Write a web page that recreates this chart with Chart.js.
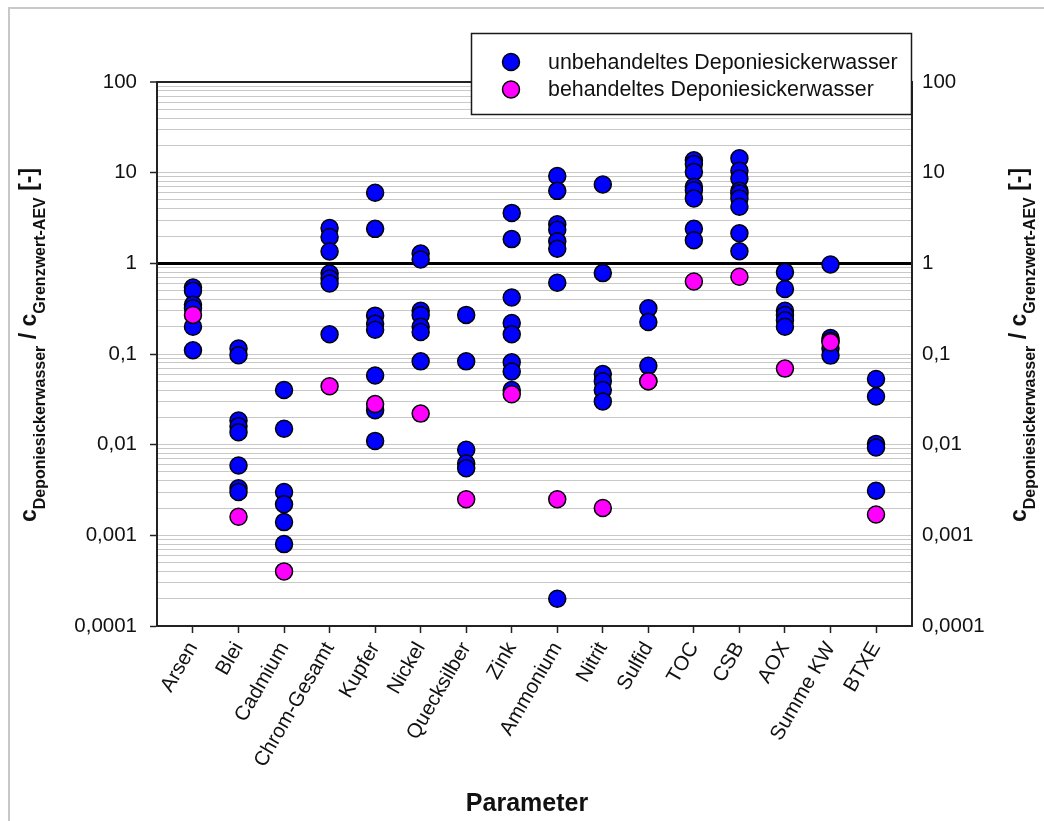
<!DOCTYPE html>
<html>
<head>
<meta charset="utf-8">
<title>Deponiesickerwasser</title>
<script src="https://cdn.jsdelivr.net/npm/chart.js@4.4.1/dist/chart.umd.min.js"></script>
<style>
  html, body { margin: 0; padding: 0; background: #ffffff; }
  #wrap { position: relative; width: 1044px; height: 821px; }
</style>
</head>
<body>
<div id="wrap"><canvas id="chart" width="1044" height="821"></canvas></div>
<script>
// Parameters on the x axis
const categories = ['Arsen', 'Blei', 'Cadmium', 'Chrom-Gesamt', 'Kupfer', 'Nickel', 'Quecksilber',
  'Zink', 'Ammonium', 'Nitrit', 'Sulfid', 'TOC', 'CSB', 'AOX', 'Summe KW', 'BTXE'];

// Ratio c / c(Grenzwert-AEV), untreated leachate, one list per parameter
const untreatedValues = [
  [0.54, 0.5, 0.35, 0.32, 0.2, 0.11],
  [0.115, 0.097, 0.0185, 0.016, 0.0137, 0.0059, 0.0033, 0.003],
  [0.04, 0.015, 0.003, 0.0022, 0.0014, 0.0008],
  [2.45, 1.95, 1.35, 0.77, 0.68, 0.6, 0.165],
  [6.0, 2.4, 0.265, 0.215, 0.185, 0.058, 0.024, 0.011],
  [1.28, 1.1, 0.3, 0.27, 0.2, 0.175, 0.083],
  [0.27, 0.083, 0.0088, 0.0062, 0.0055],
  [3.6, 1.85, 0.42, 0.22, 0.165, 0.081, 0.064, 0.04],
  [9.2, 6.3, 2.7, 2.35, 1.75, 1.45, 0.61, 0.0002],
  [7.4, 0.78, 0.06, 0.05, 0.04, 0.03],
  [0.32, 0.225, 0.074, 0.05],
  [13.7, 12.5, 10.2, 7.0, 6.4, 5.2, 2.4, 1.8],
  [14.4, 10.5, 8.6, 6.3, 5.9, 5.2, 4.2, 2.15, 1.36],
  [0.8, 0.52, 0.3, 0.27, 0.235, 0.2],
  [0.97, 0.15, 0.14, 0.115, 0.096],
  [0.053, 0.034, 0.0102, 0.0093, 0.0031]
];

// Ratio c / c(Grenzwert-AEV), treated leachate
const treatedValues = [
  [0.27], [0.0016], [0.0004], [0.044], [0.028], [0.022], [0.0025], [0.036],
  [0.0025], [0.002], [0.05], [0.63], [0.71], [0.069], [0.135], [0.0017]
];

const seriesNames = ['unbehandeltes Deponiesickerwasser', 'behandeltes Deponiesickerwasser'];
const seriesColors = ['#0000ff', '#ff00ff'];

// Decade ticks of the logarithmic axis and their labels
const decadeValues = [0.0001, 0.001, 0.01, 0.1, 1, 10, 100];
const decadeLabels = ['0,0001', '0,001', '0,01', '0,1', '1', '10', '100'];
const limitValue = 1;

const xTitle = 'Parameter';
const yTitleParts = [
  { text: 'c', sub: false },
  { text: 'Deponiesickerwasser', sub: true },
  { text: ' / ', sub: false },
  { text: 'c', sub: false },
  { text: 'Grenzwert-AEV', sub: true },
  { text: ' [-]', sub: false }
];

const FONT = "'Liberation Sans', Arial, Helvetica, sans-serif";
const INK = '#111111';

function toPoints(groups) {
  const pts = [];
  groups.forEach((vals, i) => vals.forEach(v => pts.push({ x: i, y: v })));
  return pts;
}

function decadeIndex(v) {
  return decadeValues.findIndex(d => Math.abs(v / d - 1) < 1e-6);
}

// 1..9 x 10^n ticks for every decade (grid), labels only on decades
function logTicks() {
  const t = [];
  for (let i = 0; i < decadeValues.length - 1; i++) {
    for (let m = 1; m <= 9; m++) t.push({ value: m * decadeValues[i] });
  }
  t.push({ value: decadeValues[decadeValues.length - 1] });
  return t;
}

function decadeLabel(value) {
  const i = decadeIndex(value);
  return i >= 0 ? decadeLabels[i] : '';
}

// Page frame, rotated y titles with subscripts, x title and the legend box
const decorations = {
  id: 'decorations',
  beforeDraw(chart) {
    const ctx = chart.ctx;
    ctx.save();
    ctx.fillStyle = '#ffffff';
    ctx.fillRect(0, 0, chart.width, chart.height);
    ctx.strokeStyle = '#c8c8c8';
    ctx.lineWidth = 2;
    ctx.beginPath();
    ctx.moveTo(9, chart.height);
    ctx.lineTo(9, 8);
    ctx.lineTo(chart.width, 8);
    ctx.stroke();
    ctx.restore();
  },
  afterDraw(chart) {
    const ctx = chart.ctx;

    const mainFont = 'bold 23px ' + FONT;
    const subFont = 'bold 16px ' + FONT;
    const drawYTitle = (baseX, centerY) => {
      ctx.save();
      ctx.fillStyle = INK;
      ctx.textBaseline = 'alphabetic';
      ctx.textAlign = 'left';
      let total = 0;
      const widths = yTitleParts.map(p => {
        ctx.font = p.sub ? subFont : mainFont;
        const w = ctx.measureText(p.text).width;
        total += w;
        return w;
      });
      ctx.translate(baseX, centerY);
      ctx.rotate(-Math.PI / 2);
      let u = -total / 2;
      yTitleParts.forEach((p, i) => {
        ctx.font = p.sub ? subFont : mainFont;
        ctx.fillText(p.text, u, p.sub ? 9 : 0);
        u += widths[i];
      });
      ctx.restore();
    };
    drawYTitle(36, 345);
    drawYTitle(1026, 345);

    // x axis title
    ctx.save();
    ctx.fillStyle = INK;
    ctx.font = 'bold 25px ' + FONT;
    ctx.textAlign = 'center';
    ctx.textBaseline = 'middle';
    ctx.fillText(xTitle, 527, 804);
    ctx.restore();

    // legend
    const lx = 471.5, ly = 33.5, lw = 440, lh = 81;
    ctx.save();
    ctx.fillStyle = '#ffffff';
    ctx.fillRect(lx, ly, lw, lh);
    ctx.strokeStyle = '#1a1a1a';
    ctx.lineWidth = 1.5;
    ctx.strokeRect(lx, ly, lw, lh);
    chart.data.datasets.forEach((ds, i) => {
      const cy = 62 + i * 27.5;
      ctx.beginPath();
      ctx.arc(511, cy, 8.5, 0, Math.PI * 2);
      ctx.fillStyle = ds.backgroundColor;
      ctx.fill();
      ctx.lineWidth = 1.5;
      ctx.strokeStyle = '#000000';
      ctx.stroke();
      ctx.fillStyle = INK;
      ctx.font = '21.4px ' + FONT;
      ctx.textAlign = 'left';
      ctx.textBaseline = 'middle';
      ctx.fillText(ds.label, 548, cy + 1);
    });
    ctx.restore();
  }
};

const pointStyle = (i) => ({
  label: seriesNames[i],
  backgroundColor: seriesColors[i],
  borderColor: '#000000',
  pointBackgroundColor: seriesColors[i],
  pointBorderColor: '#000000',
  pointBorderWidth: 1.5,
  borderWidth: 1.5,
  pointRadius: 8.5,
  pointHoverRadius: 8.5
});

new Chart(document.getElementById('chart'), {
  type: 'scatter',
  data: {
    datasets: [
      Object.assign(pointStyle(0), { data: toPoints(untreatedValues), order: 2 }),
      Object.assign(pointStyle(1), { data: toPoints(treatedValues), order: 1 })
    ]
  },
  options: {
    responsive: false,
    animation: false,
    events: [],
    layout: { padding: { top: 82, left: 0, right: 0, bottom: 0 } },
    plugins: { legend: { display: false }, tooltip: { enabled: false } },
    scales: {
      x: {
        type: 'linear',
        position: 'bottom',
        min: -0.79,
        max: 15.79,
        afterFit: s => { s.height = 195; },
        afterBuildTicks: s => { s.ticks = categories.map((c, i) => ({ value: i })); },
        ticks: {
          autoSkip: false,
          minRotation: 60,
          maxRotation: 60,
          padding: 5,
          color: INK,
          font: { family: FONT, size: 20.5 },
          callback: v => categories[v]
        },
        grid: { drawOnChartArea: false, drawTicks: true, tickLength: 7, tickColor: '#222222', tickWidth: 1.5 },
        border: { display: true, color: '#222222', width: 2 }
      },
      y: {
        type: 'logarithmic',
        position: 'left',
        min: decadeValues[0],
        max: decadeValues[decadeValues.length - 1],
        afterFit: s => { s.width = 157; },
        afterBuildTicks: s => { s.ticks = logTicks(); },
        ticks: {
          autoSkip: false,
          padding: 13,
          color: INK,
          font: { family: FONT, size: 20.5 },
          callback: v => decadeLabel(v)
        },
        grid: {
          drawTicks: true,
          tickLength: 7,
          tickWidth: 1.5,
          tickColor: c => decadeIndex(c.tick.value) >= 0 ? '#222222' : 'rgba(0,0,0,0)',
          color: c => {
            const v = c.tick.value;
            if (Math.abs(v / limitValue - 1) < 1e-6) return '#000000';
            if (decadeIndex(v) === decadeValues.length - 1) return '#222222';
            if (decadeIndex(v) === 0) return 'rgba(0,0,0,0)';
            return '#c8c8c8';
          },
          lineWidth: c => {
            const v = c.tick.value;
            if (Math.abs(v / limitValue - 1) < 1e-6) return 3;
            if (decadeIndex(v) === decadeValues.length - 1) return 2;
            return 1;
          }
        },
        border: { display: true, color: '#222222', width: 2 }
      },
      y2: {
        type: 'logarithmic',
        position: 'right',
        min: decadeValues[0],
        max: decadeValues[decadeValues.length - 1],
        afterFit: s => { s.width = 132; },
        afterBuildTicks: s => { s.ticks = logTicks(); },
        ticks: {
          autoSkip: false,
          padding: 10,
          color: INK,
          font: { family: FONT, size: 20.5 },
          callback: v => decadeLabel(v)
        },
        grid: { drawOnChartArea: false, drawTicks: false },
        border: { display: true, color: '#222222', width: 2 }
      }
    }
  },
  plugins: [decorations]
});
</script>
</body>
</html>
